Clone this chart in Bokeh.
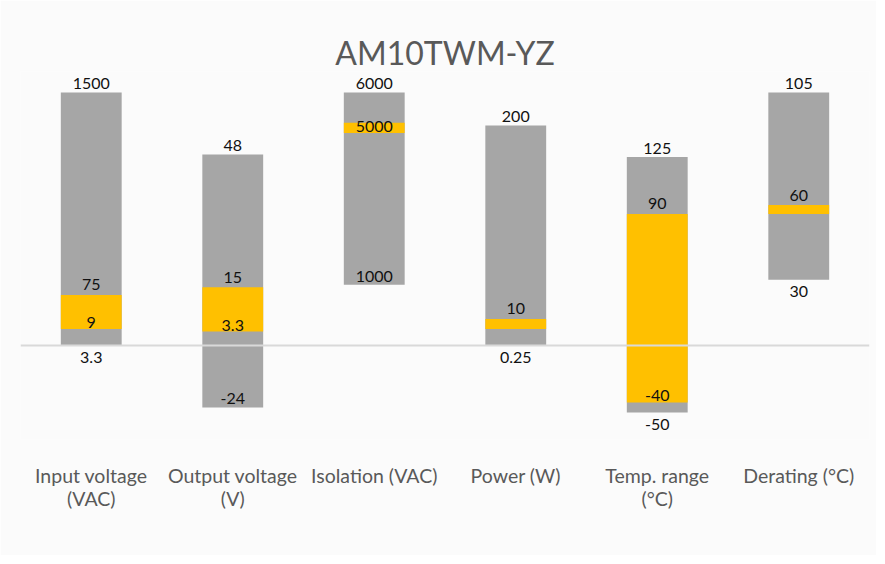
from bokeh.plotting import figure
from bokeh.models import FactorRange, Range1d, Span, ColumnDataSource
from bokeh.core.properties import value
from bokeh.embed import file_html
from bokeh.resources import INLINE

# ---- data ----
categories = ["Input voltage\n(VAC)", "Output voltage\n(V)", "Isolation (VAC)",
              "Power (W)", "Temp. range\n(°C)", "Derating (°C)"]
# bar extents in chart display units (as drawn in the reference)
bar_low = [0, -24.5, 24, 0, -26.5, 26]
band_low = [6.5, 5.5, 84, 6.5, -22.5, 52]
band_high = [20, 23, 88, 10.5, 52, 55.5]
bar_high = [100, 75.5, 100, 87, 74.5, 100]
# value labels shown on the bars
label_high = ["1500", "48", "6000", "200", "125", "105"]
label_band_high = ["75", "15", "", "10", "90", "60"]
label_band_low = ["9", "3.3", "5000", "", "-40", ""]
label_low = ["3.3", "-24", "1000", "0.25", "-50", "30"]
low_label_inside = [False, True, True, False, False, False]

# ---- layout ----
W, H = 876, 555
ML, MR, MT, MB = 20, 7, 71, 116
Y0, Y1 = -37.15, 108.3
frame_h = H - MT - MB
ppu = frame_h / (Y1 - Y0)  # pixels per unit

GREY = "#a6a6a6"
ORANGE = "#ffc000"
BG = "#fbfbfb"
FONT = "Lato"

p = figure(width=W, height=H, x_range=FactorRange(*categories), y_range=Range1d(Y0, Y1),
           output_backend="svg", toolbar_location=None, title="AM10TWM-YZ",
           min_border_left=ML, min_border_right=MR, min_border_top=MT, min_border_bottom=MB)
p.background_fill_color = BG
p.border_fill_color = BG
p.outline_line_color = None
p.xgrid.visible = False
p.ygrid.visible = False
p.yaxis.visible = False

p.title.align = "center"
p.title.text_font = FONT
p.title.text_font_size = "32px"
p.title.text_font_style = "normal"
p.title.text_color = "#595959"
p.title.standoff = 0

p.xaxis.axis_line_color = None
p.xaxis.major_tick_line_color = None
p.xaxis.minor_tick_line_color = None
p.xaxis.major_label_text_font = FONT
p.xaxis.major_label_text_font_size = "19.5px"
p.xaxis.major_label_text_line_height = 1.0
p.xaxis.major_label_text_color = "#595959"
p.xaxis.major_label_standoff = 18
p.x_range.range_padding = 0

bars = ColumnDataSource(dict(x=categories, low=bar_low, high=bar_high,
                             blo=band_low, bhi=band_high))
p.vbar(x="x", bottom="low", top="high", width=0.43, source=bars,
       fill_color=GREY, line_color=None)
p.vbar(x="x", bottom="blo", top="bhi", width=0.43, source=bars,
       fill_color=ORANGE, line_color=None)

p.add_layout(Span(location=0, dimension="width", line_color="#d9d9d9", line_width=2))

# label positions: offsets in pixels converted to data units
xs, ys, ts = [], [], []
for i, c in enumerate(categories):
    if label_high[i]:
        xs.append(c); ys.append(bar_high[i] + 9 / ppu); ts.append(label_high[i])
    if label_band_high[i]:
        xs.append(c); ys.append(band_high[i] + 10 / ppu); ts.append(label_band_high[i])
    if label_band_low[i]:
        xs.append(c); ys.append(band_low[i] + 6.5 / ppu); ts.append(label_band_low[i])
    if label_low[i]:
        off = 8.5 if low_label_inside[i] else -12
        xs.append(c); ys.append(bar_low[i] + off / ppu); ts.append(label_low[i])

lab = ColumnDataSource(dict(x=xs, y=ys, t=ts))
p.text(x="x", y="y", text="t", source=lab, text_align="center", text_baseline="middle",
       text_font=value(FONT), text_font_size="16px", text_color="#111111")

open("out.html", "w").write(file_html(p, INLINE))
